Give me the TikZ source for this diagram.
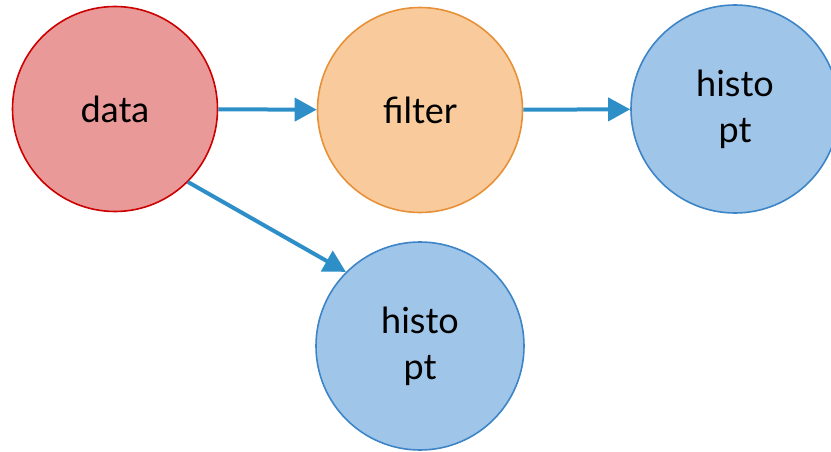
\documentclass[tikz,border=0pt]{standalone}
\usepackage{fontspec}
\setmainfont{Lato}
\usetikzlibrary{arrows.meta}
\definecolor{datafill}{HTML}{EA9999}
\definecolor{dataline}{HTML}{CC0000}
\definecolor{filtfill}{HTML}{F9CB9C}
\definecolor{filtline}{HTML}{E69138}
\definecolor{histfill}{HTML}{9FC5E8}
\definecolor{histline}{HTML}{3D85C6}
\definecolor{flow}{HTML}{2E8FC8}
\begin{document}
\begin{tikzpicture}[x=1pt,y=-1pt,
        blob/.style={circle,minimum size=205pt,inner sep=0pt,line width=1.6pt,
          align=center,font=\fontsize{36}{46}\selectfont},
        flowarrow/.style={draw=flow,line width=4pt,
          -{Triangle[length=22pt,width=23pt]}}]
        \useasboundingbox (0,0) rectangle (831,452);
        % the nodes
        \node[blob,fill=datafill,draw=dataline] (data) at (115,109) {data};
        \node[blob,fill=filtfill,draw=filtline] (filter) at (420,110) {filter};
        \node[blob,fill=histfill,draw=histline,minimum size=208pt] (histoA) at (735,109) {histo\\pt};
        \node[blob,fill=histfill,draw=histline,minimum size=208pt] (histoB) at (420,346) {histo\\pt};
        % the arrows
        \draw[flowarrow] (data) -- (filter);
        \draw[flowarrow] (filter) -- (histoA);
        \draw[flowarrow] (data.south east) -- (histoB.north west);
\end{tikzpicture}
\end{document}
